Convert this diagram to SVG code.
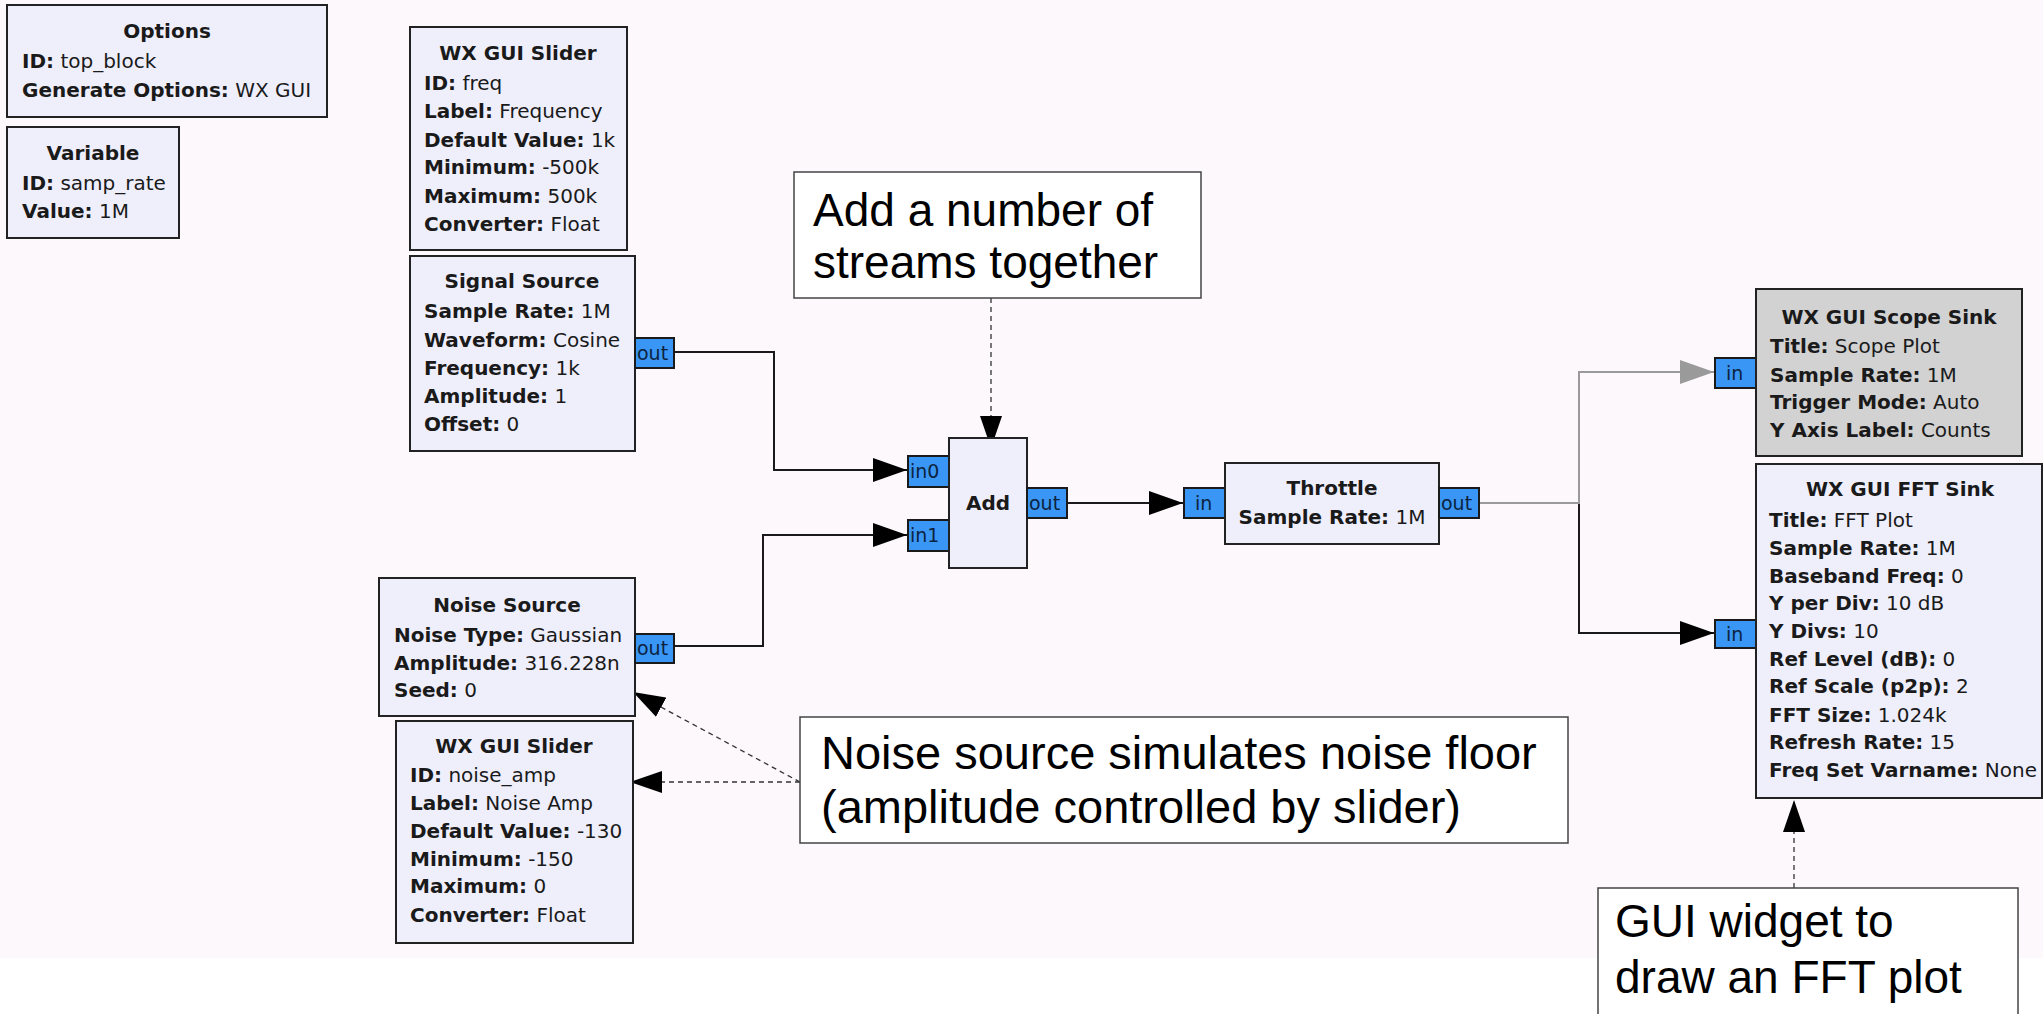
<svg xmlns="http://www.w3.org/2000/svg" width="2043" height="1014" viewBox="0 0 2043 1014">
<defs>
<style>
.blk{fill:#EFEFFC;stroke:#222;stroke-width:2}
.dis{fill:#D2D2D2;stroke:#222;stroke-width:2}
.port{fill:#3A96F4;stroke:#1a1a1a;stroke-width:2}
.pt{font-family:"DejaVu Sans",sans-serif;font-size:19px;fill:#0c2340}
.t{font-family:"DejaVu Sans",sans-serif;font-size:20px;fill:#1a1a1a}
.ti{font-family:"DejaVu Sans",sans-serif;font-size:20px;font-weight:bold;fill:#1a1a1a;text-anchor:middle}
.b{font-weight:bold}
.cbox{fill:#fff;stroke:#444;stroke-width:1.5}
.ct{font-family:"Liberation Sans",Arial,sans-serif;font-size:46px;fill:#000}
.ct2{font-family:"Liberation Sans",Arial,sans-serif;font-size:47px;fill:#000}
.wire{fill:none;stroke:#1a1a1a;stroke-width:2}
.wireg{fill:none;stroke:#9a9a9a;stroke-width:2}
.dash{fill:none;stroke:#333;stroke-width:1.3;stroke-dasharray:5,4}
</style>
<marker id="ah" viewBox="0 0 34 24" refX="34" refY="12" markerWidth="34" markerHeight="24" markerUnits="userSpaceOnUse" orient="auto"><path d="M0,0 L34,12 L0,24 z" fill="#000"/></marker>
<marker id="ahg" viewBox="0 0 34 24" refX="34" refY="12" markerWidth="34" markerHeight="24" markerUnits="userSpaceOnUse" orient="auto"><path d="M0,0 L34,12 L0,24 z" fill="#9a9a9a"/></marker>
<marker id="ca" viewBox="0 0 32 22" refX="32" refY="11" markerWidth="32" markerHeight="22" markerUnits="userSpaceOnUse" orient="auto"><path d="M0,0 L32,11 L0,22 z" fill="#000"/></marker>
</defs>
<rect x="0" y="0" width="2043" height="958" fill="#FCF8FC"/>
<rect x="0" y="958" width="2043" height="56" fill="#FFFFFF"/>

<g id="connectors">
<path class="wire" d="M674,352 H774 V470 H907" marker-end="url(#ah)"/>
<path class="wire" d="M674,646 H763 V535 H907" marker-end="url(#ah)"/>
<path class="wire" d="M1067,503 H1183" marker-end="url(#ah)"/>
<path class="wire" d="M1479,503 H1579 V633 H1714" marker-end="url(#ah)"/>
<path class="wireg" d="M1479,503 H1579 V372 H1714" marker-end="url(#ahg)"/>
<path class="dash" d="M991,298 V448" marker-end="url(#ca)"/>
<path class="dash" d="M800,782 L633,692" marker-end="url(#ca)"/>
<path class="dash" d="M800,782 H630" marker-end="url(#ca)"/>
<path class="dash" d="M1794,888 V800" marker-end="url(#ca)"/>
</g>

<g id="options">
<rect class="blk" x="7" y="5" width="320" height="112"/>
<text class="ti" x="167" y="38">Options</text>
<text class="t" x="22" y="68"><tspan class="b">ID:</tspan> top_block</text>
<text class="t" x="22" y="97"><tspan class="b">Generate Options:</tspan> WX GUI</text>
</g>

<g id="variable">
<rect class="blk" x="7" y="127" width="172" height="111"/>
<text class="ti" x="93" y="160">Variable</text>
<text class="t" x="22" y="190"><tspan class="b">ID:</tspan> samp_rate</text>
<text class="t" x="22" y="218"><tspan class="b">Value:</tspan> 1M</text>
</g>

<g id="slider_freq">
<rect class="blk" x="410" y="27" width="217" height="223"/>
<text class="ti" x="518" y="60">WX GUI Slider</text>
<text class="t" x="424" y="90"><tspan class="b">ID:</tspan> freq</text>
<text class="t" x="424" y="118"><tspan class="b">Label:</tspan> Frequency</text>
<text class="t" x="424" y="147"><tspan class="b">Default Value:</tspan> 1k</text>
<text class="t" x="424" y="174"><tspan class="b">Minimum:</tspan> -500k</text>
<text class="t" x="424" y="203"><tspan class="b">Maximum:</tspan> 500k</text>
<text class="t" x="424" y="231"><tspan class="b">Converter:</tspan> Float</text>
</g>

<g id="signal_source">
<rect class="blk" x="410" y="256" width="225" height="195"/>
<text class="ti" x="522" y="288">Signal Source</text>
<text class="t" x="424" y="318"><tspan class="b">Sample Rate:</tspan> 1M</text>
<text class="t" x="424" y="347"><tspan class="b">Waveform:</tspan> Cosine</text>
<text class="t" x="424" y="375"><tspan class="b">Frequency:</tspan> 1k</text>
<text class="t" x="424" y="403"><tspan class="b">Amplitude:</tspan> 1</text>
<text class="t" x="424" y="431"><tspan class="b">Offset:</tspan> 0</text>
<rect class="port" x="635" y="338" width="39" height="30"/>
<text class="pt" x="637" y="360">out</text>
</g>

<g id="noise_source">
<rect class="blk" x="379" y="578" width="256" height="138"/>
<text class="ti" x="507" y="612">Noise Source</text>
<text class="t" x="394" y="642"><tspan class="b">Noise Type:</tspan> Gaussian</text>
<text class="t" x="394" y="670"><tspan class="b">Amplitude:</tspan> 316.228n</text>
<text class="t" x="394" y="697"><tspan class="b">Seed:</tspan> 0</text>
<rect class="port" x="635" y="634" width="39" height="29"/>
<text class="pt" x="637" y="655">out</text>
</g>

<g id="slider_noise">
<rect class="blk" x="396" y="721" width="237" height="222"/>
<text class="ti" x="514" y="753">WX GUI Slider</text>
<text class="t" x="410" y="782"><tspan class="b">ID:</tspan> noise_amp</text>
<text class="t" x="410" y="810"><tspan class="b">Label:</tspan> Noise Amp</text>
<text class="t" x="410" y="838"><tspan class="b">Default Value:</tspan> -130</text>
<text class="t" x="410" y="866"><tspan class="b">Minimum:</tspan> -150</text>
<text class="t" x="410" y="893"><tspan class="b">Maximum:</tspan> 0</text>
<text class="t" x="410" y="922"><tspan class="b">Converter:</tspan> Float</text>
</g>

<g id="add">
<rect class="port" x="908" y="456" width="41" height="31"/>
<text class="pt" x="910" y="478">in0</text>
<rect class="port" x="908" y="520" width="41" height="31"/>
<text class="pt" x="910" y="542">in1</text>
<rect class="blk" x="949" y="438" width="78" height="130"/>
<text class="ti" x="988" y="510">Add</text>
<rect class="port" x="1027" y="488" width="40" height="30"/>
<text class="pt" x="1029" y="510">out</text>
</g>

<g id="throttle">
<rect class="port" x="1184" y="488" width="41" height="30"/>
<text class="pt" x="1195" y="510">in</text>
<rect class="blk" x="1225" y="463" width="214" height="81"/>
<text class="ti" x="1332" y="495">Throttle</text>
<text class="t" x="1332" y="524" text-anchor="middle"><tspan class="b">Sample Rate:</tspan> 1M</text>
<rect class="port" x="1439" y="488" width="40" height="30"/>
<text class="pt" x="1441" y="510">out</text>
</g>

<g id="scope_sink">
<rect class="port" x="1715" y="358" width="41" height="30"/>
<text class="pt" x="1726" y="380">in</text>
<rect class="dis" x="1756" y="289" width="266" height="167"/>
<text class="ti" x="1889" y="324">WX GUI Scope Sink</text>
<text class="t" x="1770" y="353"><tspan class="b">Title:</tspan> Scope Plot</text>
<text class="t" x="1770" y="382"><tspan class="b">Sample Rate:</tspan> 1M</text>
<text class="t" x="1770" y="409"><tspan class="b">Trigger Mode:</tspan> Auto</text>
<text class="t" x="1770" y="437"><tspan class="b">Y Axis Label:</tspan> Counts</text>
</g>

<g id="fft_sink">
<rect class="port" x="1715" y="620" width="41" height="28"/>
<text class="pt" x="1726" y="641">in</text>
<rect class="blk" x="1756" y="464" width="286" height="334"/>
<text class="ti" x="1900" y="496">WX GUI FFT Sink</text>
<text class="t" x="1769" y="527"><tspan class="b">Title:</tspan> FFT Plot</text>
<text class="t" x="1769" y="555"><tspan class="b">Sample Rate:</tspan> 1M</text>
<text class="t" x="1769" y="583"><tspan class="b">Baseband Freq:</tspan> 0</text>
<text class="t" x="1769" y="610"><tspan class="b">Y per Div:</tspan> 10 dB</text>
<text class="t" x="1769" y="638"><tspan class="b">Y Divs:</tspan> 10</text>
<text class="t" x="1769" y="666"><tspan class="b">Ref Level (dB):</tspan> 0</text>
<text class="t" x="1769" y="693"><tspan class="b">Ref Scale (p2p):</tspan> 2</text>
<text class="t" x="1769" y="722"><tspan class="b">FFT Size:</tspan> 1.024k</text>
<text class="t" x="1769" y="749"><tspan class="b">Refresh Rate:</tspan> 15</text>
<text class="t" x="1769" y="777"><tspan class="b">Freq Set Varname:</tspan> None</text>
</g>

<g id="comment_add">
<rect class="cbox" x="794" y="172" width="407" height="126"/>
<text class="ct" x="813" y="226">Add a number of</text>
<text class="ct" x="813" y="278">streams together</text>
</g>

<g id="comment_noise">
<rect class="cbox" x="800" y="717" width="768" height="126"/>
<text class="ct2" x="821" y="769">Noise source simulates noise floor</text>
<text class="ct2" x="821" y="823">(amplitude controlled by slider)</text>
</g>

<g id="comment_fft">
<rect class="cbox" x="1598" y="888" width="420" height="140"/>
<text class="ct" x="1615" y="937">GUI widget to</text>
<text class="ct" x="1615" y="993">draw an FFT plot</text>
</g>
</svg>
